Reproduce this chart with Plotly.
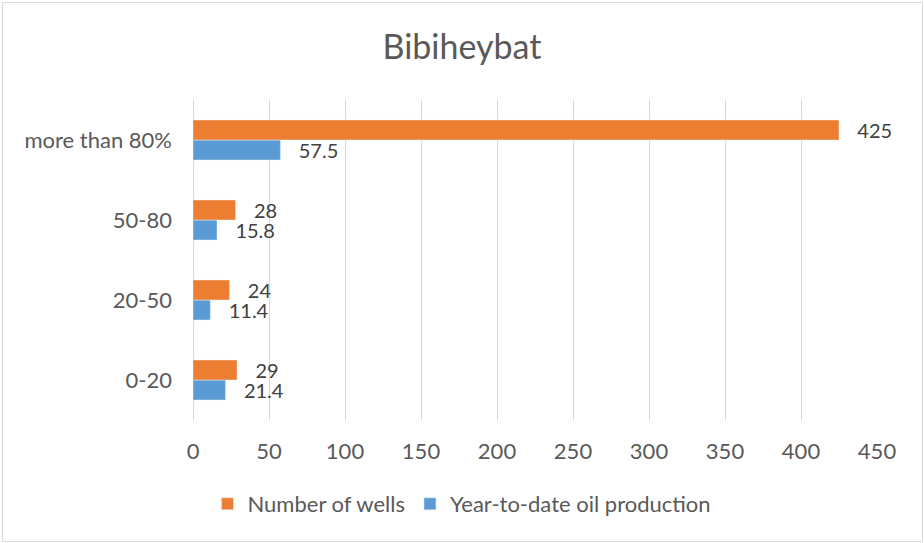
import plotly.graph_objects as go

categories = ["0-20", "20-50", "50-80", "more than 80%"]
wells = [29, 24, 28, 425]
production = [21.4, 11.4, 15.8, 57.5]
x_ticks = [0, 50, 100, 150, 200, 250, 300, 350, 400, 450]

W, H = 924, 543
L, R, T, B = 193, 47, 100, 123
pw, ph = W - L - R, H - T - B

FONT = "Lato, Open Sans, sans-serif"
GREY = "#595959"
FS = 22
LFS = 20

fig = go.Figure()
fig.add_trace(go.Bar(
    y=categories, x=production, orientation="h", name="Year-to-date oil production",
    marker=dict(color="#5b9bd5"), text=[str(v) for v in production],
    texttemplate="   %{text}", textposition="outside", constraintext="none",
    cliponaxis=False, textfont=dict(size=LFS, color="#404040", family=FONT),
    legendrank=2,
))
fig.add_trace(go.Bar(
    y=categories, x=wells, orientation="h", name="Number of wells",
    marker=dict(color="#ed7d31"), text=[str(v) for v in wells],
    texttemplate="   %{text}", textposition="outside", constraintext="none",
    cliponaxis=False, textfont=dict(size=LFS, color="#404040", family=FONT),
    legendrank=1,
))

def px_x(p):
    return (p - L) / pw

def px_y(p):
    return (H - B - p) / ph

fig.update_layout(
    width=W, height=H,
    margin=dict(l=L, r=R, t=T, b=B),
    paper_bgcolor="white", plot_bgcolor="white",
    barmode="group", bargap=0.5, bargroupgap=0,
    font=dict(family=FONT, color=GREY, size=FS),
    title=dict(text="Bibiheybat", x=0.5, xref="container", xanchor="center",
               y=1 - 47 / H, yref="container", yanchor="middle",
               font=dict(size=34, color=GREY, family=FONT)),
    xaxis=dict(range=[0, 450], tickvals=x_ticks, showgrid=True, gridcolor="#d9d9d9",
               gridwidth=1, zeroline=True, zerolinecolor="#d9d9d9", zerolinewidth=1,
               showline=False, ticks="", ticklabelstandoff=16,
               tickfont=dict(size=FS, color=GREY)),
    yaxis=dict(range=[-0.5, 3.5], showgrid=False, zeroline=False, showline=False,
               ticks="", ticklabelstandoff=20, tickfont=dict(size=FS, color=GREY)),
    legend=dict(orientation="h", x=0.5, xref="container", xanchor="center",
                y=1 - 504 / H, yref="container", yanchor="middle",
                font=dict(size=FS, color=GREY), itemwidth=30, traceorder="normal"),
    shapes=[dict(type="rect", xref="paper", yref="paper",
                 x0=px_x(2.5), x1=px_x(922.5), y0=px_y(541.5), y1=px_y(2.5),
                 line=dict(color="#d9d9d9", width=1), layer="below")],
)

fig.write_html("out.html", config={"displayModeBar": False},
               post_script="document.body.style.margin='0';")
